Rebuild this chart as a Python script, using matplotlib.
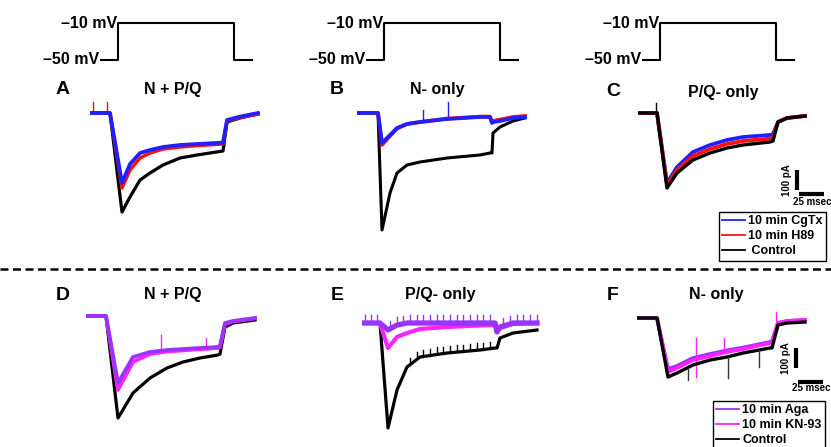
import numpy as np
import matplotlib
matplotlib.use('Agg')
import matplotlib.pyplot as plt
from matplotlib.lines import Line2D

plt.rcParams['font.family'] = ['Liberation Sans', 'DejaVu Sans']
plt.rcParams['font.weight'] = 'bold'

# --- data: time in ms from start of sweep, current in pA from baseline ---
step_t = [0, 18, 18, 134, 134, 152]
step_v = [-50, -50, -10, -10, -50, -50]

t_a = [0, 20, 32, 40, 50, 60, 73, 90, 107, 133, 137, 150, 168]
black_a = [0, 0, -495, -420, -335, -300, -260, -225, -210, -190, -45, -25, -5]
red_a = [0, 0, -375, -285, -225, -200, -180, -170, -163, -155, -40, -22, -5]
blue_a = [0, 0, -350, -255, -200, -185, -170, -160, -155, -148, -35, -18, 0]

t_b = [0, 21, 25, 33, 40, 50, 63, 90, 123, 133, 135, 136, 143, 156, 168]
black_b = [0, 0, -585, -400, -300, -260, -245, -225, -210, -200, -200, -100, -70, -40, -25]
red_b = [0, 0, -160, -115, -78, -55, -45, -28, -18, -18, -45, -40, -33, -20, -15]
blue_b = [0, 0, -150, -110, -75, -55, -45, -30, -20, -20, -50, -45, -40, -25, -20]

t_c = [0, 19, 29, 39, 55, 72, 89, 105, 132, 135, 140, 149, 167]
black_c = [0, 0, -375, -300, -235, -200, -175, -160, -145, -140, -45, -25, -15]
red_c = [0, 0, -362, -285, -215, -180, -155, -140, -128, -122, -45, -25, -15]
blue_c = [0, 0, -350, -270, -195, -160, -135, -120, -110, -105, -45, -25, -15]

t_d = [0, 20, 32, 47, 64, 81, 97, 114, 132, 134, 139, 147, 169]
black_d = [0, 0, -510, -385, -310, -260, -230, -210, -195, -190, -55, -35, -20]
magenta_d = [0, 0, -370, -230, -190, -178, -172, -166, -160, -155, -40, -28, -12]
purple_d = [0, 0, -335, -205, -180, -170, -165, -160, -155, -150, -35, -25, -10]

t_e = [0, 18, 26, 35, 45, 58, 85, 118, 133, 135, 138, 151, 175]
black_e = [0, 0, -525, -335, -220, -170, -150, -135, -125, -125, -75, -50, -35]
magenta_e = [0, 0, -125, -70, -50, -30, -20, -12, -10, -45, -25, -5, 0]
purple_e = [0, 0, -35, -10, 0, 0, 0, 0, 0, -45, -20, 0, 0]
comb_e = [3, 9, 15, 28, 35, 41, 48, 55, 61, 68, 75, 81, 88, 95, 101, 108,
          115, 121, 128, 141, 148, 155, 161, 168, 175]

t_f = [0, 20, 31, 40, 56, 73, 90, 106, 133, 135, 141, 150, 168]
black_f = [0, 0, -295, -275, -235, -210, -195, -175, -150, -150, -35, -25, -20]
magenta_f = [0, 0, -270, -250, -210, -190, -170, -155, -125, -120, -25, -15, -10]
purple_f = [0, 0, -255, -240, -200, -180, -162, -148, -120, -115, -25, -15, -10]

# artefact spikes: (time, tip current)
spikes_a_red = [(3, 55), (17, 55)]
spikes_b_blue = [(66, 15), (91, 55)]
spikes_c_black = [(18, 50)]
spikes_d_mag = [(75, -95), (120, -110)]
spikes_f_black = [(51, -310), (91, -300), (122, -245)]
spikes_f_mag = [(59, -100), (59, -295), (87, -100), (139, 30)]

BLUE = '#1f1fff'
RED = '#ff1010'
PURPLE = '#9933ff'
MAGENTA = '#ff22ff'

W, H = 831, 447
fig = plt.figure(figsize=(W / 100, H / 100), dpi=100)


def px_axes(left, top, width, height):
    ax = fig.add_axes([left / W, 1 - (top + height) / H, width / W, height / H])
    ax.set_axis_off()
    return ax


def trace_axes(left, base_y):
    ax = px_axes(left, base_y - 20, 200, 140)
    ax.set_xlim(0, 200)
    ax.set_ylim(-600, 100)
    return ax


def draw_spikes(ax, t, y, spikes, color):
    for st, tip in spikes:
        ax.plot([st, st], [np.interp(st, t, y), tip], color=color, lw=1.0)


def scale_bar(ax, v_top, h_y, txt_y):
    # 100 pA vertical, 25 ms horizontal
    ax.plot([159, 159], [v_top, v_top - 100], color='k', lw=3, solid_capstyle='butt', clip_on=False)
    ax.plot([161, 186], [h_y, h_y], color='k', lw=3, solid_capstyle='butt', clip_on=False)
    ax.text(149, v_top - 50, '100 pA', rotation=90, ha='center', va='center', fontsize=7, clip_on=False)
    ax.text(155, txt_y, '25 msec', ha='left', va='center', fontsize=7, clip_on=False)


# voltage protocols
for left in [100, 366, 642]:
    ax = px_axes(left, 5, 170, 65)
    ax.set_xlim(0, 170)
    ax.set_ylim(-61.1, 10)
    ax.plot(step_t, step_v, color='k', lw=1.5)
    ax.text(step_t[2] - 1, -10, '–10 mV', ha='right', va='center', fontsize=11.5, clip_on=False)
    ax.text(-1, -50, '–50 mV', ha='right', va='center', fontsize=11.5, clip_on=False)

# A
ax = trace_axes(90, 113)
ax.plot(t_a, black_a, color='k', lw=2.3)
ax.plot(t_a, red_a, color=RED, lw=2.5)
draw_spikes(ax, t_a, red_a, spikes_a_red, RED)
ax.plot(t_a, blue_a, color=BLUE, lw=2.7)

# B
ax = trace_axes(357, 113)
ax.plot(t_b, black_b, color='k', lw=2.2)
ax.plot(t_b, red_b, color=RED, lw=2.7)
ax.plot(t_b, blue_b, color=BLUE, lw=2.7)
draw_spikes(ax, t_b, blue_b, spikes_b_blue, BLUE)

# C
ax = trace_axes(638, 113)
ax.plot(t_c, blue_c, color=BLUE, lw=2.7)
ax.plot(t_c, red_c, color=RED, lw=2.7)
ax.plot(t_c, black_c, color='k', lw=2.4)
draw_spikes(ax, t_c, black_c, spikes_c_black, 'k')
scale_bar(ax, -285, -405, -447)

# D
ax = trace_axes(86, 316)
ax.plot(t_d, black_d, color='k', lw=2.3)
ax.plot(t_d, magenta_d, color=MAGENTA, lw=2.7)
draw_spikes(ax, t_d, magenta_d, spikes_d_mag, MAGENTA)
ax.plot(t_d, purple_d, color=PURPLE, lw=2.7)

# E
ax = trace_axes(362, 323)
ax.plot(t_e, black_e, color='k', lw=2.3)
draw_spikes(ax, t_e, black_e, [(c, np.interp(c, t_e, black_e) + 35) for c in comb_e if 45 < c < 131], 'k')
ax.plot(t_e, magenta_e, color=MAGENTA, lw=3)
ax.plot(t_e, purple_e, color=PURPLE, lw=3.8)
draw_spikes(ax, t_e, purple_e, [(c, np.interp(c, t_e, purple_e) + 40) for c in comb_e], PURPLE)

# F
ax = trace_axes(637, 318)
ax.plot(t_f, purple_f, color=PURPLE, lw=2.7)
ax.plot(t_f, magenta_f, color=MAGENTA, lw=2.7)
draw_spikes(ax, t_f, magenta_f, spikes_f_mag, MAGENTA)
ax.plot(t_f, black_f, color='k', lw=2.4)
draw_spikes(ax, t_f, black_f, spikes_f_black, '#333333')
scale_bar(ax, -150, -320, -352)

# panel letters and titles
labels = [('A', 63, 90, 'N + P/Q', 173), ('B', 337, 90, 'N- only', 437),
          ('C', 613, 92, 'P/Q- only', 723), ('D', 63, 295, 'N + P/Q', 173),
          ('E', 337, 295, 'P/Q- only', 440), ('F', 613, 295, 'N- only', 716)]
for letter, lx, ly, title, tx in labels:
    fig.text(lx / W, 1 - ly / H, letter, fontsize=14, ha='center', va='center')
    fig.text(tx / W, 1 - ly / H, title, fontsize=11.5, ha='center', va='center')

# separator
fig.add_artist(Line2D([0, 1], [1 - 269 / H, 1 - 269 / H], transform=fig.transFigure,
                      color='k', lw=1.8, linestyle=(0, (3.2, 1.8))))

# legends
leg_kw = dict(loc='upper left', borderaxespad=0, frameon=True, fancybox=False,
              edgecolor='k', framealpha=1, handlelength=1.85, handletextpad=0.25,
              labelspacing=0.25, borderpad=0.25, prop={'size': 9, 'weight': 'bold'})
h1 = [Line2D([], [], color=BLUE, lw=1.3), Line2D([], [], color=RED, lw=1.3),
      Line2D([], [], color='k', lw=1.3)]
lg = fig.legend(h1, ['10 min CgTx', '10 min H89', ' Control'],
                bbox_to_anchor=(719 / W, 1 - 212 / H), **leg_kw)
lg.get_frame().set_linewidth(1.0)
h2 = [Line2D([], [], color=PURPLE, lw=1.3), Line2D([], [], color=MAGENTA, lw=1.3),
      Line2D([], [], color='k', lw=1.3)]
lg = fig.legend(h2, ['10 min Aga', '10 min KN-93', 'Control'],
                bbox_to_anchor=(713 / W, 1 - 401 / H), **leg_kw)
lg.get_frame().set_linewidth(1.0)

fig.savefig('out.png', dpi=100)
